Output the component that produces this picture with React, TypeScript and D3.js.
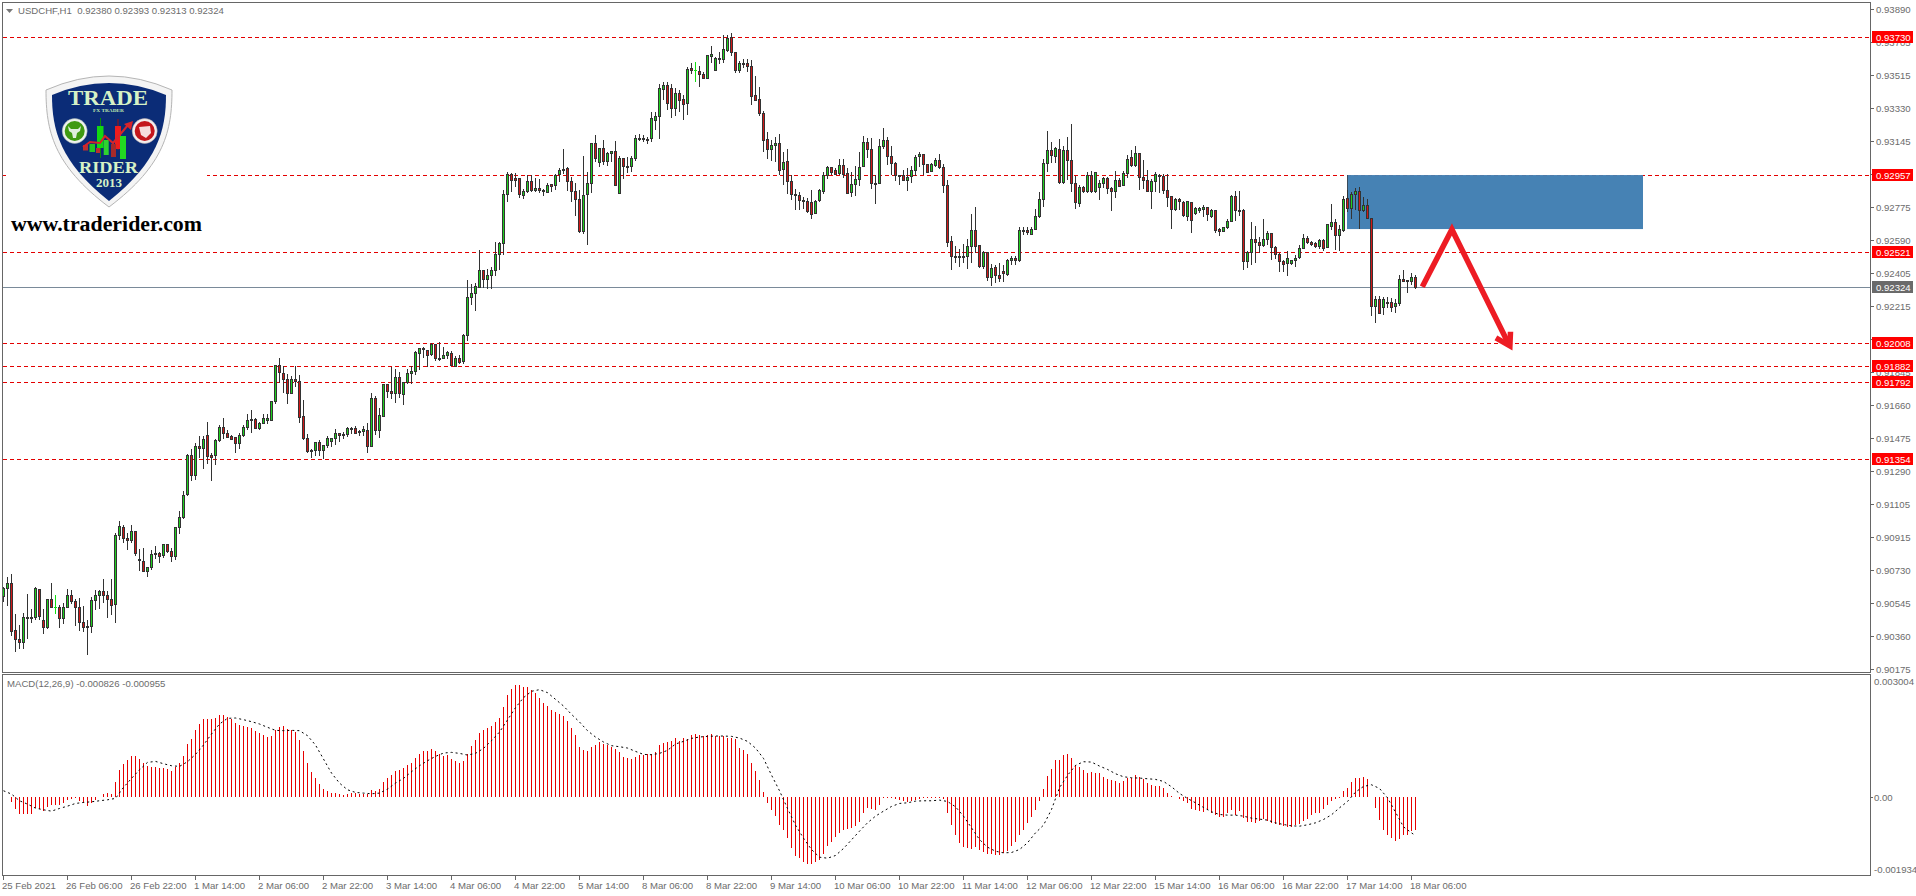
import React from "react";
import * as d3 from "d3";

// Prices are in units of 0.00001
const opens = [
90585,90628,90658,90394,90343,90324,90467,90467,90465,90625,
90450,90409,90568,90523,90523,90460,90521,90591,90557,90523,
90439,90416,90414,90563,90589,90613,90589,90568,90538,90929,
90974,90912,90898,90951,90793,90782,90724,90747,90827,90827,
90814,90878,90838,90808,90974,91028,91157,91379,91264,91429,
91416,91491,91379,91377,91461,91536,91503,91484,91480,91444,
91489,91536,91574,91581,91531,91559,91576,91576,91683,91885,
91840,91807,91728,91807,91795,91598,91474,91409,91405,91452,
91409,91433,91456,91472,91502,91497,91495,91527,91531,91514,
91512,91519,91427,91699,91517,91600,91780,91739,91726,91818,
91720,91788,91840,91850,91951,91975,91970,91945,92003,91925,
91923,91940,91955,91881,91925,91906,92054,92266,92289,92324,
92420,92368,92390,92418,92510,92570,92848,92960,92938,92938,
92842,92863,92921,92868,92882,92868,92861,92904,92898,92959,
92989,92994,92921,92865,92820,92638,92846,92910,93135,93028,
93107,93032,93077,93090,92853,93050,93007,93004,93049,93159,
93163,93159,93160,93266,93289,93441,93463,93447,93334,93418,
93382,93358,93559,93546,93540,93523,93502,93623,93548,93606,
93606,93660,93731,93647,93548,93579,93587,93568,93405,93382,
93304,93157,93099,93123,93135,92986,93033,92921,92848,92842,
92814,92808,92805,92739,92812,92866,92955,93000,92983,92964,
93011,92966,92857,92902,92932,93003,93140,93101,92908,92908,
93116,93152,93062,93022,92957,92955,92925,92951,92981,93060,
93073,93017,92976,93010,93040,93000,92899,92584,92501,92501,
92501,92497,92554,92646,92558,92441,92522,92379,92437,92392,
92413,92396,92477,92488,92475,92642,92646,92625,92651,92723,
92820,93021,93096,93060,93102,92914,93096,93040,92908,92798,
92888,92863,92957,92863,92886,92908,92938,92882,92863,92929,
92897,92966,93057,93010,93079,92944,92927,92865,92921,92948,
92951,92871,92835,92762,92820,92803,92726,92803,92739,92756,
92762,92775,92726,92758,92651,92638,92662,92694,92837,92758,
92758,92469,92522,92595,92578,92561,92597,92629,92552,92511,
92473,92458,92458,92475,92492,92542,92601,92580,92569,92554,
92589,92548,92670,92691,92616,92644,92826,92768,92848,92865,
92756,92786,92713,92216,92259,92212,92242,92240,92216,92235,
92370,92357,92359,92380];

const highs = [
90636,90692,90711,90486,90424,90490,90598,90512,90636,90628,
90512,90570,90660,90593,90535,90546,90626,90619,90570,90576,
90531,90452,90581,90619,90621,90683,90613,90686,90944,91007,
90990,90945,90990,90955,90850,90855,90748,90844,90868,90835,
90883,90883,90855,90975,91064,91178,91386,91414,91446,91486,
91486,91565,91394,91469,91549,91587,91521,91493,91480,91506,
91549,91611,91632,91587,91565,91611,91611,91685,91885,91925,
91882,91835,91824,91882,91831,91690,91499,91414,91452,91465,
91435,91486,91474,91525,91502,91508,91540,91540,91542,91521,
91544,91561,91728,91711,91645,91780,91780,91874,91865,91848,
91788,91868,91880,91968,91981,91988,91972,92009,92007,92020,
91990,91964,91966,91938,91943,92060,92366,92343,92347,92533,
92420,92431,92437,92580,92580,92872,92972,92966,92966,92942,
92876,92955,92955,92940,92932,92876,92910,92904,92962,92996,
93103,93005,92947,92910,92872,93062,92977,93135,93182,93112,
93154,93084,93090,93148,93067,93050,93056,93062,93184,93187,
93182,93172,93312,93312,93469,93480,93480,93469,93447,93435,
93407,93566,93589,93593,93570,93538,93630,93686,93619,93651,
93745,93745,93754,93651,93598,93608,93613,93604,93514,93450,
93317,93199,93153,93172,93187,93084,93101,92956,92881,92861,
92835,92827,92872,92816,92876,92977,93009,93000,92998,93048,
93048,92996,92973,93007,93086,93176,93163,93168,92958,93161,
93221,93174,93120,93033,92957,92985,92998,93009,93069,93084,
93073,93019,93023,93053,93075,93017,92929,92614,92557,92539,
92569,92595,92738,92777,92563,92531,92522,92456,92450,92460,
92452,92482,92501,92501,92666,92666,92663,92663,92766,92860,
93045,93203,93141,93117,93160,93120,93173,93244,92953,92899,
92895,92976,92980,92974,92929,92948,92948,92891,92980,92938,
92980,93068,93098,93120,93079,93042,92985,92935,92976,92963,
92961,92961,92839,92826,92826,92809,92813,92803,92775,92775,
92788,92779,92764,92760,92659,92666,92709,92843,92867,92867,
92764,92527,92691,92670,92610,92709,92642,92632,92557,92520,
92479,92529,92479,92509,92563,92623,92614,92586,92578,92597,
92595,92681,92794,92710,92676,92839,92873,92863,92886,92890,
92835,92820,92715,92278,92276,92269,92272,92263,92257,92394,
92422,92366,92404,92393];

const lows = [
90555,90531,90364,90272,90289,90289,90345,90437,90452,90452,
90373,90401,90520,90486,90407,90429,90520,90542,90420,90392,
90384,90257,90379,90508,90514,90550,90465,90482,90435,90902,
90887,90846,90887,90814,90728,90722,90694,90735,90795,90773,
90803,90831,90780,90790,90936,91020,91152,91236,91240,91364,
91302,91330,91234,91324,91456,91473,91476,91463,91392,91414,
91484,91521,91504,91525,91520,91555,91557,91570,91670,91784,
91732,91668,91724,91765,91559,91467,91394,91366,91375,91375,
91356,91420,91427,91437,91454,91471,91482,91502,91499,91489,
91489,91392,91426,91493,91478,91596,91701,91696,91673,91701,
91662,91782,91782,91831,91861,91925,91876,91938,91911,91911,
91921,91921,91881,91880,91895,91895,92024,92225,92193,92322,
92322,92317,92317,92390,92422,92506,92805,92861,92891,92827,
92823,92855,92863,92863,92857,92838,92857,92861,92872,92919,
92962,92867,92805,92726,92632,92625,92563,92855,93030,93004,
93013,93007,93030,92897,92853,92936,92970,92977,93037,93148,
93144,93133,93143,93210,93160,93379,93323,93278,93289,93312,
93266,93294,93525,93482,93454,93495,93499,93589,93544,93581,
93589,93649,93626,93532,93532,93557,93536,93350,93373,93289,
93086,93050,93035,93030,92955,92900,92850,92816,92763,92763,
92767,92746,92709,92737,92805,92850,92936,92955,92955,92960,
92938,92848,92831,92838,92895,93003,93052,92880,92793,92906,
93105,93015,92955,92923,92900,92923,92866,92913,92949,93002,
92955,92970,92974,93004,92989,92858,92554,92422,92464,92441,
92464,92428,92464,92516,92435,92430,92362,92334,92351,92353,
92357,92390,92449,92449,92469,92619,92617,92619,92647,92717,
92779,92972,93026,93026,92906,92906,92929,92863,92766,92779,
92854,92858,92858,92858,92816,92886,92852,92756,92830,92890,
92895,92942,93004,93004,92873,92876,92861,92768,92863,92858,
92850,92775,92655,92756,92760,92723,92700,92632,92734,92745,
92723,92700,92713,92632,92614,92636,92651,92692,92696,92726,
92422,92434,92450,92464,92520,92550,92563,92479,92484,92411,
92411,92390,92450,92441,92486,92539,92567,92559,92546,92542,
92529,92544,92648,92535,92529,92638,92751,92708,92760,92655,
92751,92711,92165,92126,92173,92169,92209,92188,92179,92220,
92357,92291,92338,92313];

const closes = [
90630,90658,90386,90341,90324,90467,90465,90465,90630,90471,
90409,90568,90521,90523,90460,90523,90591,90555,90521,90437,
90413,90409,90563,90591,90613,90589,90566,90533,90929,90979,
90910,90898,90951,90825,90788,90724,90748,90822,90825,90808,
90878,90837,90808,90974,91030,91154,91379,91264,91428,91416,
91471,91371,91366,91463,91536,91501,91482,91471,91444,91491,
91536,91576,91581,91533,91559,91587,91587,91683,91885,91846,
91805,91728,91807,91794,91591,91473,91399,91405,91452,91409,
91435,91474,91474,91502,91489,91489,91531,91531,91501,91506,
91525,91427,91699,91517,91604,91780,91737,91726,91818,91726,
91788,91840,91851,91958,91981,91981,91940,92003,91923,91923,
91941,91958,91883,91925,91904,92056,92268,92291,92330,92420,
92368,92392,92420,92510,92572,92848,92960,92925,92925,92846,
92865,92921,92868,92882,92868,92863,92898,92891,92955,92983,
92981,92919,92863,92818,92638,92842,92910,93135,93049,93107,
93032,93079,93090,92897,93050,93004,93004,93050,93163,93165,
93157,93156,93278,93289,93447,93463,93357,93334,93418,93379,
93356,93551,93544,93546,93521,93499,93630,93638,93613,93615,
93664,93726,93647,93548,93585,93585,93566,93397,93379,93302,
93153,93099,93125,93135,92985,93028,92919,92846,92840,92812,
92806,92750,92733,92808,92870,92955,93000,92973,92962,93011,
92962,92855,92904,92932,93000,93140,93099,92908,92911,93118,
93152,93062,93020,92955,92953,92925,92943,92983,93058,93073,
93017,92974,93017,93040,93000,92897,92576,92497,92497,92497,
92497,92556,92646,92554,92441,92520,92379,92432,92390,92377,
92402,92477,92488,92475,92646,92646,92633,92651,92723,92822,
93023,93096,93066,93107,92914,93096,93040,92908,92801,92888,
92863,92957,92863,92972,92910,92938,92880,92863,92927,92895,
92966,93045,93010,93079,92942,92925,92867,92921,92961,92955,
92871,92830,92764,92820,92807,92728,92809,92700,92769,92766,
92775,92736,92758,92647,92638,92662,92696,92837,92756,92753,
92469,92522,92595,92578,92563,92595,92629,92550,92511,92469,
92454,92488,92477,92488,92544,92601,92578,92567,92554,92589,
92542,92676,92691,92616,92648,92820,92768,92848,92862,92758,
92786,92713,92216,92257,92177,92259,92239,92212,92235,92370,
92359,92361,92381,92324];

// MACD histogram, units of 0.000001, one value per bar
const macdHist = [
0,-16,-123,-303,-426,-426,-426,-426,-287,-303,-344,-254,-205,-205,-205,-156,-90,-57,-41,-115,
-164,-230,-156,-82,-8,66,90,66,361,656,804,894,1000,1000,927,828,754,738,730,705,
705,689,640,738,828,1000,1296,1419,1648,1788,1911,1911,1911,1935,2009,2009,1952,1911,1812,1763,
1738,1714,1689,1615,1566,1517,1468,1492,1640,1714,1738,1665,1648,1591,1394,1123,828,607,459,312,
189,140,90,90,74,41,66,90,90,66,66,66,164,140,189,361,459,533,632,656,
705,779,828,951,1050,1123,1123,1173,1123,1050,1000,1025,927,877,828,877,1050,1246,1394,1566,
1640,1689,
1738,1837,1927,2206,2493,2640,2739,2739,2706,2698,2616,2558,2427,2296,2230,2124,2083,2025,1976,1861,
1697,1517,1214,1140,1123,1230,1263,1345,1287,1271,1230,1164,1099,984,951,918,976,1017,1017,1041,
1058,1091,1263,1312,1345,1361,1451,1369,1435,1410,1517,1533,1517,1492,1517,1533,1492,1484,1492,1451,
1451,1410,1205,1140,1041,820,623,402,115,
-148,-328,-484,-705,-828,-1025,-1255,-1443,-1501,-1607,-1656,-1656,-1607,-1542,-1402,-1214,-1107,-992,-886,-804,
-787,-771,-722,-623,-410,-271,-312,-328,-213,
-25,-25,-33,-49,-82,-115,-131,-115,-90,-66,-41,-25,-25,-33,-25,-66,
-410,-705,-951,-1132,-1238,-1255,-1271,-1246,-1296,-1361,-1394,-1402,-1427,-1419,-1378,-1320,-1214,-1115,-927,-820,
-640,-492,-328,-107,
180,500,689,894,894,1017,1041,959,771,738,656,574,607,590,574,492,443,410,385,344,
377,459,467,541,484,426,328,279,262,262,213,82,16,
-16,-49,-107,-164,-312,-336,-353,-369,-336,-394,-459,-492,-492,-410,-328,-443,-344,-533,-615,-623,
-640,-599,-541,-599,-640,-672,-705,-722,-746,-738,-705,-681,-599,-541,-459,-410,-394,-312,-213,-115,
-66,-25,
139,221,361,467,467,476,426,
0,-287,-574,-804,-927,-1017,-1091,-1033,-927,-943,-845,-826];

// MACD signal, units of 0.000001, one value for every second bar, last one for the last bar
const macdSignal = [
148,66,-98,-180,-279,-320,-353,-287,-230,-164,-139,-123,-98,-74,-41,230,451,664,845,869,
812,763,746,861,1041,1271,1542,1788,1927,1935,1894,1845,1788,1706,1632,1624,1632,1624,1501,1271,
927,582,336,172,107,90,74,90,189,336,451,615,763,886,992,1074,1091,1066,1025,1066,
1189,1378,
1591,1886,2189,2435,2591,2632,2558,2394,2230,2025,1837,1624,1468,1345,1255,1230,1197,1115,1041,1033,
1066,1140,1296,1361,1435,1468,1484,1492,1492,1484,1443,1361,1197,943,533,148,-287,-697,-1017,-1296,
-1484,-1509,-1443,-1271,-1058,-845,-640,-476,-353,-238,-164,-148,-107,-98,-98,-82,-115,-246,-476,-763,
-1050,-1238,-1337,-1378,-1369,-1296,-1132,-886,-697,-312,221,525,771,861,853,754,672,566,492,467,
459,443,427,377,246,82,-41,-148,-262,-369,-435,-451,-451,-476,-525,-549,-574,-640,-681,-714,
-722,-689,-640,-558,-443,-271,-115,115,254,295,205,-25,-377,-738,-886,-955];

const priceTicks = [0.9389,0.93705,0.93515,0.9333,0.93145,0.9296,0.92775,0.9259,0.92405,0.92215,0.9203,0.91845,0.9166,0.91475,0.9129,0.91105,0.90915,0.9073,0.90545,0.9036,0.90175];
const levelLines = [0.9373,0.92957,0.92521,0.92008,0.91882,0.91792,0.91354];
const lastPrice = 0.92324;
const timeLabels = ["25 Feb 2021","26 Feb 06:00","26 Feb 22:00","1 Mar 14:00","2 Mar 06:00","2 Mar 22:00","3 Mar 14:00","4 Mar 06:00","4 Mar 22:00","5 Mar 14:00","8 Mar 06:00","8 Mar 22:00","9 Mar 14:00","10 Mar 06:00","10 Mar 22:00","11 Mar 14:00","12 Mar 06:00","12 Mar 22:00","15 Mar 14:00","16 Mar 06:00","16 Mar 22:00","17 Mar 14:00","18 Mar 06:00"];
const barsPerLabel = 16;
const zoneBars = [336, 410];
const zonePrices = [0.92957, 0.92653];
const arrowPath: [number, number][] = [[354.7,0.92328],[362.1,0.92651],[376.5,0.91996]];
const arrowHead: [number, number][] = [[373.1,0.92041],[376.6,0.91996],[376.75,0.92075]];

const W = 1916, H = 896;
const x = d3.scaleLinear().domain([0, 1]).range([3.5, 7.5]);
const yP = d3.scaleLinear().domain([0.90175, 0.9389]).range([669.3, 9.3]);
const yM = d3.scaleLinear().domain([-0.001934, 0.003004]).range([875.5, 674.5]);
const px = (v: number) => Math.floor(v) + 0.5;

const FONT = "'Liberation Sans', Arial, sans-serif";
const TXT = "#6c6c6c";

function Logo() {
  return (
    <g>
      <rect x={6} y={60} width={201} height={182} fill="#fff" />
      <path d="M46,90 Q78,76 109,76 Q140,76 172,90 C172,130 165,165 109,207 C53,165 46,130 46,90 Z" fill="#f4f4f4" stroke="#b5b5b5" strokeWidth={1} />
      <path d="M52,95 Q80,83 109,83 Q138,83 166,95 C166,130 158,162 109,201 C60,162 52,130 52,95 Z" fill="#0b2c77" />
      <text x={68} y={105} fontFamily="'Liberation Serif', serif" fontWeight="bold" fontSize={20} fill="#d6f2c6" textLength={80} lengthAdjust="spacingAndGlyphs">TRADE</text>
      <text x={93} y={112} fontFamily="'Liberation Serif', serif" fontWeight="bold" fontSize={4.6} fill="#bfe8b0" textLength={31} lengthAdjust="spacingAndGlyphs">FX TRADER</text>
      <text x={79} y={173} fontFamily="'Liberation Serif', serif" fontWeight="bold" fontSize={17} fill="#d6f2c6" textLength={59} lengthAdjust="spacingAndGlyphs">RIDER</text>
      <text x={96} y={187} fontFamily="'Liberation Serif', serif" fontWeight="bold" fontSize={11.5} fill="#d6f2c6" textLength={26} lengthAdjust="spacingAndGlyphs">2013</text>
      <circle cx={74.7} cy={131} r={12.5} fill="#eef2ee" stroke="#9aa" strokeWidth={0.5} />
      <circle cx={74.7} cy={131} r={10} fill="#3f9a12" />
      <path d="M68,126 L71,129 H78 L81,126 L80,131 L77,133 L76,138 H73 L72,133 L69,131 Z" fill="#dfeedd" />
      <circle cx={144.7} cy={131} r={12.5} fill="#f3eeee" stroke="#baa" strokeWidth={0.5} />
      <circle cx={144.7} cy={131} r={10} fill="#c4161c" />
      <path d="M139,127 L150,126 L151,133 L146,138 L141,135 Z" fill="#f6dcdc" />
      <line x1={100.5} y1={118} x2={100.5} y2={158} stroke="#0a8a0a" />
      <rect x={97} y={126} width={6.5} height={22} fill="#12d812" />
      <rect x={103.7} y={140} width={5} height={15} fill="#2fd42f" />
      <line x1={118} y1={119} x2={118} y2={150} stroke="#a01010" />
      <rect x={115} y={126} width={6} height={23} fill="#ee1c1c" />
      <rect x={111} y={144} width={5} height={13} fill="#a52a2a" />
      <rect x={120} y={136} width={6} height={23} fill="#22d822" />
      <rect x={89.5} y={144} width={5.5} height={8} fill="#22c822" />
      <rect x={83} y={145} width={5} height={5.5} fill="#b83030" />
      <rect x={96} y={148} width={4} height={5} fill="#b83030" />
      <path d="M83,147 L90,142 L100,143 L105,136 L113,143 L128,125" fill="none" stroke="#d8242a" strokeWidth={2} />
      <path d="M124,124 L133,121 L131,130 Z" fill="#d8242a" />
      <text x={11} y={231} fontFamily="'Liberation Serif', serif" fontWeight="bold" fontSize={20} fill="#000" textLength={191} lengthAdjust="spacingAndGlyphs">www.traderider.com</text>
    </g>
  );
}

export default function App() {
  const n = closes.length;
  const indices = d3.range(n);
  const signalLine = d3.line<number>()
    .x((_, k) => x(Math.min(2 * k, n - 1)))
    .y((v) => yM(v / 1e6))(macdSignal) as string;
  const arrowLine = d3.line<[number, number]>().x((d) => x(d[0])).y((d) => yP(d[1]));

  return (
    <svg width={W} height={H} viewBox={`0 0 ${W} ${H}`} style={{ position: "fixed", left: 0, top: 0, background: "#fff" }}>
      {/* level lines */}
      <g shapeRendering="crispEdges">
        {levelLines.map((p) => (
          <line key={p} x1={3} x2={1870} y1={px(yP(p))} y2={px(yP(p))} stroke="#e30000" strokeWidth={1} strokeDasharray="4 3" />
        ))}
        <line x1={3} x2={1870} y1={px(yP(lastPrice))} y2={px(yP(lastPrice))} stroke="#7a8a99" strokeWidth={1} />
      </g>

      <Logo />

      {/* supply zone */}
      <rect
        x={x(zoneBars[0]) - 0.5}
        y={yP(zonePrices[0])}
        width={x(zoneBars[1]) - x(zoneBars[0])}
        height={yP(zonePrices[1]) - yP(zonePrices[0])}
        fill="#4682b4"
      />
      <line x1={x(zoneBars[0]) - 0.5} x2={x(zoneBars[0]) - 0.5} y1={yP(zonePrices[0])} y2={yP(0.92826)} stroke="#3a4a5a" shapeRendering="crispEdges" />

      {/* candles */}
      <g shapeRendering="crispEdges">
        {indices.map((i) => {
          const o = opens[i] / 1e5, h = highs[i] / 1e5, l = lows[i] / 1e5, c = closes[i] / 1e5;
          const cx = x(i);
          const flat = opens[i] === closes[i];
          const dark = "#333";
          if (flat) {
            return (
              <g key={i} stroke="#12e012">
                <line x1={cx} x2={cx} y1={yP(h)} y2={yP(l)} />
                <line x1={cx - 1.5} x2={cx + 1.5} y1={px(yP(o))} y2={px(yP(o))} />
              </g>
            );
          }
          const up = c > o;
          const top = px(yP(Math.max(o, c)));
          const bot = px(yP(Math.min(o, c)));
          return (
            <g key={i}>
              <line x1={cx} x2={cx} y1={yP(h)} y2={yP(l)} stroke={dark} />
              <rect x={cx - 1} width={2} y={top} height={Math.max(bot - top, 1)} fill={up ? "#1fd01f" : "#d01818"} stroke={dark} strokeWidth={1} />
            </g>
          );
        })}
      </g>

      {/* arrow */}
      <path d={arrowLine(arrowPath) as string} fill="none" stroke="#ed1c24" strokeWidth={5.5} strokeLinejoin="miter" />
      <path d={arrowLine(arrowHead) as string} fill="none" stroke="#ed1c24" strokeWidth={5.5} strokeLinejoin="miter" />

      {/* MACD */}
      <g shapeRendering="crispEdges">
        {macdHist.map((v, i) => (
          <line key={i} x1={x(i)} x2={x(i)} y1={yM(0)} y2={yM(v / 1e6)} stroke="#e60000" strokeWidth={1} />
        ))}
      </g>
      <path d={signalLine} fill="none" stroke="#000" strokeWidth={1} strokeDasharray="2 3" />

      {/* frames */}
      <g fill="none" stroke="#666" strokeWidth={1} shapeRendering="crispEdges">
        <rect x={2.5} y={2.5} width={1868} height={670} />
        <rect x={2.5} y={674.5} width={1868} height={201} />
      </g>

      {/* price axis */}
      <g fontFamily={FONT} fontSize={9.6} fill={TXT}>
        {priceTicks.map((p) => (
          <g key={p}>
            <line x1={1871} x2={1874} y1={px(yP(p))} y2={px(yP(p))} stroke="#666" shapeRendering="crispEdges" />
            <text x={1876} y={yP(p) + 3.5} stroke="none">{p.toFixed(5)}</text>
          </g>
        ))}
        {levelLines.map((p) => (
          <g key={p}>
            <rect x={1872} y={px(yP(p)) - 6.5} width={41} height={12} fill="#ff0000" />
            <text x={1876} y={yP(p) + 3.5} fill="#fff">{p.toFixed(5)}</text>
          </g>
        ))}
        <rect x={1872} y={px(yP(lastPrice)) - 6.5} width={41} height={12} fill="#6a6a6a" />
        <text x={1876} y={yP(lastPrice) + 3.5} fill="#fff">{lastPrice.toFixed(5)}</text>
      </g>

      {/* MACD axis */}
      <g fontFamily={FONT} fontSize={9.6} fill={TXT}>
        <text x={1874} y={685}>0.003004</text>
        <line x1={1871} x2={1873} y1={797.5} y2={797.5} stroke="#666" shapeRendering="crispEdges" />
        <text x={1874} y={800.5}>0.00</text>
        <text x={1874} y={872.5}>-0.001934</text>
      </g>

      {/* time axis */}
      <g fontFamily={FONT} fontSize={9.6} fill={TXT}>
        {timeLabels.map((t, k) => (
          <g key={t}>
            <line x1={x(k * barsPerLabel)} x2={x(k * barsPerLabel)} y1={876} y2={880} stroke="#666" shapeRendering="crispEdges" />
            <text x={x(k * barsPerLabel) - 1.5} y={888.5}>{t}</text>
          </g>
        ))}
      </g>

      {/* headers */}
      <path d="M6,9 L13,9 L9.5,13 Z" fill="#777" />
      <text x={18} y={14} fontFamily={FONT} fontSize={9.6} fill={TXT} xmlSpace="preserve">USDCHF,H1  0.92380 0.92393 0.92313 0.92324</text>
      <text x={7} y={687} fontFamily={FONT} fontSize={9.6} fill={TXT}>MACD(12,26,9) -0.000826 -0.000955</text>
    </svg>
  );
}
